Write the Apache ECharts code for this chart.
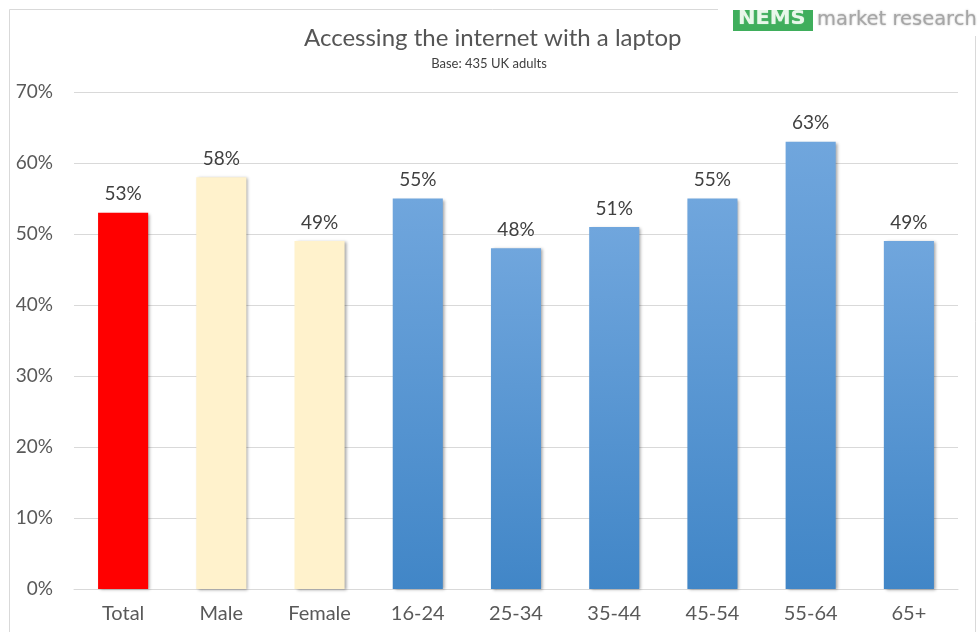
<!DOCTYPE html>
<html>
<head>
<meta charset="utf-8">
<script src="https://cdn.jsdelivr.net/npm/echarts@6/dist/echarts.min.js"></script>
<style>
  html, body { margin: 0; padding: 0; background: #ffffff; }
  #chart { width: 978px; height: 632px; }
</style>
</head>
<body>
<div id="chart"></div>
<script>
// Share of adults accessing the internet with a laptop, by group
const categories = ['Total', 'Male', 'Female', '16-24', '25-34', '35-44', '45-54', '55-64', '65+'];
const values = [53, 58, 49, 55, 48, 51, 55, 63, 49];
const groups = ['total', 'gender', 'gender', 'age', 'age', 'age', 'age', 'age', 'age'];
const yTicks = [0, 10, 20, 30, 40, 50, 60, 70];

const FONT = 'Lato, "Noto Sans", sans-serif';
const blueFill = new echarts.graphic.LinearGradient(0, 0, 0, 1, [
  { offset: 0, color: '#70a6dd' },
  { offset: 1, color: '#4186c7' }
]);
const groupColour = { total: '#ff0000', gender: '#fff2cc', age: blueFill };

const chart = echarts.init(document.getElementById('chart'), null, { renderer: 'canvas' });

chart.setOption({
  backgroundColor: '#ffffff',
  animation: false,
  title: [
    {
      text: 'Accessing the internet with a laptop',
      left: 299,
      top: 21,
      textStyle: { fontFamily: FONT, fontSize: 24, fontWeight: 'normal', color: '#555555' }
    },
    {
      text: 'Base: 435 UK adults',
      left: 'center',
      top: 52,
      textStyle: { fontFamily: FONT, fontSize: 13, fontWeight: 'normal', color: '#404040' }
    }
  ],
  grid: { left: 74, right: 20, top: 92, bottom: 43, containLabel: false },
  xAxis: {
    type: 'category',
    data: categories,
    axisLine: { show: true, lineStyle: { color: '#d9d9d9', width: 1 } },
    axisTick: { show: false },
    axisLabel: { fontFamily: FONT, fontSize: 20, color: '#595959', margin: 15 }
  },
  yAxis: {
    type: 'value',
    min: yTicks[0],
    max: yTicks[yTicks.length - 1],
    interval: 10,
    axisLine: { show: false },
    axisTick: { show: false },
    splitLine: { lineStyle: { color: '#d9d9d9', width: 1 } },
    axisLabel: {
      fontFamily: FONT, fontSize: 19, color: '#595959', margin: 21,
      formatter: v => v + '%'
    }
  },
  series: [{
    type: 'bar',
    barWidth: '51%',
    data: values.map((v, i) => ({
      value: v,
      itemStyle: { color: groupColour[groups[i]] }
    })),
    itemStyle: {
      shadowColor: 'rgba(0,0,0,0.35)',
      shadowBlur: 3,
      shadowOffsetX: 2,
      shadowOffsetY: 1
    },
    label: {
      show: true,
      position: 'top',
      distance: 9,
      fontFamily: FONT,
      fontSize: 19,
      color: '#404040',
      formatter: p => p.value + '%'
    }
  }],
  graphic: [
    // chart frame
    {
      type: 'polyline',
      shape: { points: [[9.5, 640], [9.5, 9.5], [975.5, 9.5], [975.5, 640]] },
      style: { stroke: '#d9d9d9', lineWidth: 1, fill: null },
      z: 0
    },
    // company logo
    {
      type: 'rect',
      shape: { x: 718, y: 2, width: 260, height: 34 },
      style: { fill: '#ffffff' },
      z: 5
    },
    {
      type: 'rect',
      shape: { x: 733, y: 10, width: 80, height: 21 },
      style: { fill: '#3fae5c' },
      z: 6
    },
    {
      type: 'text',
      x: 738,
      y: 10,
      scaleX: 1.1,
      style: {
        text: 'NEMS',
        font: 'bold 19px "DejaVu Sans", sans-serif',
        fill: '#e8f7ea',
        textShadowColor: 'rgba(255,255,255,0.6)',
        textShadowBlur: 1
      },
      z: 7
    },
    {
      type: 'text',
      x: 817,
      y: 10,
      style: {
        text: 'market research',
        font: '19.5px "DejaVu Sans", sans-serif',
        fill: '#a6a6a6',
        textShadowColor: 'rgba(160,160,160,0.8)',
        textShadowBlur: 2
      },
      z: 7
    }
  ]
});
</script>
</body>
</html>
